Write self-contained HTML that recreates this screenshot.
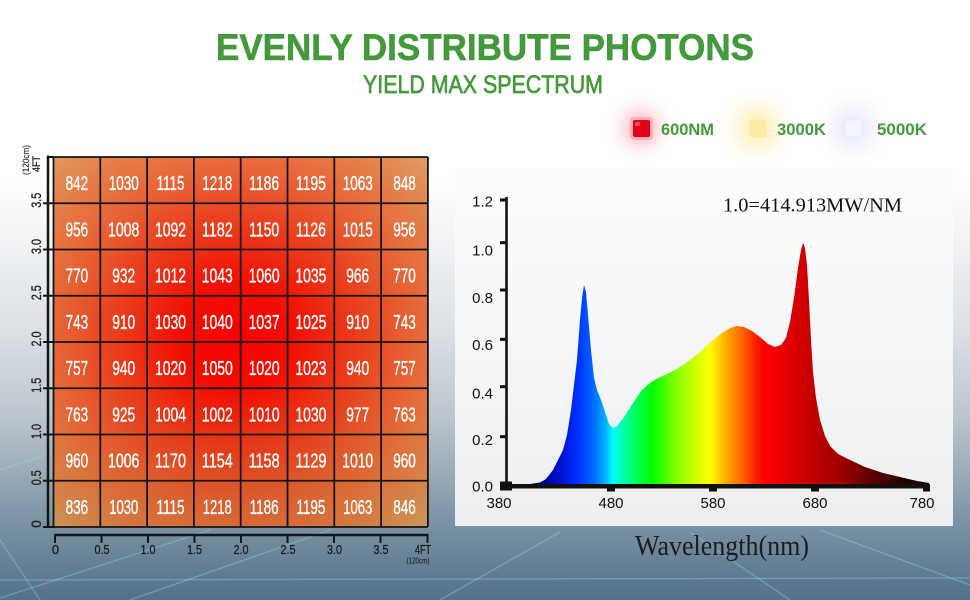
<!DOCTYPE html>
<html><head><meta charset="utf-8"><style>
html,body{margin:0;padding:0;width:970px;height:600px;overflow:hidden;background:#fff}
svg{display:block}
</style></head><body>
<svg width="970" height="600" viewBox="0 0 970 600" xmlns="http://www.w3.org/2000/svg">
<defs>
<linearGradient id="bg" x1="0" y1="0" x2="0" y2="600" gradientUnits="userSpaceOnUse">
<stop offset="0" stop-color="#ffffff"/>
<stop offset="0.3" stop-color="#ffffff"/>
<stop offset="0.42" stop-color="#eef0f2"/>
<stop offset="0.55" stop-color="#dce1e5"/>
<stop offset="0.7" stop-color="#bac4cc"/>
<stop offset="0.8" stop-color="#96a7b4"/>
<stop offset="0.88" stop-color="#7790a2"/>
<stop offset="1" stop-color="#54718a"/>
</linearGradient>
<linearGradient id="panel" x1="0" y1="168" x2="0" y2="526" gradientUnits="userSpaceOnUse">
<stop offset="0" stop-color="#fdfdfd"/>
<stop offset="1" stop-color="#eceef0"/>
</linearGradient>
<radialGradient id="heat" cx="236" cy="335" r="268" gradientUnits="userSpaceOnUse">
<stop offset="0" stop-color="#f80000"/>
<stop offset="0.2" stop-color="#f40c02"/>
<stop offset="0.4" stop-color="#ec3316"/>
<stop offset="0.6" stop-color="#e8592e"/>
<stop offset="0.75" stop-color="#e6723e"/>
<stop offset="0.9" stop-color="#e08b52"/>
<stop offset="1" stop-color="#d9a064"/>
</radialGradient>
<linearGradient id="heatov" x1="0" y1="157" x2="0" y2="527" gradientUnits="userSpaceOnUse">
<stop offset="0" stop-color="#ffc8a0" stop-opacity="0.08"/>
<stop offset="0.6" stop-color="#806020" stop-opacity="0"/>
<stop offset="1" stop-color="#806020" stop-opacity="0.16"/>
</linearGradient>
<linearGradient id="spec" x1="506" y1="0" x2="929" y2="0" gradientUnits="userSpaceOnUse">
<stop offset="0" stop-color="#000040"/>
<stop offset="0.080" stop-color="#00008a"/>
<stop offset="0.128" stop-color="#0010d0"/>
<stop offset="0.170" stop-color="#0030ff"/>
<stop offset="0.210" stop-color="#0070ff"/>
<stop offset="0.234" stop-color="#00b0ff"/>
<stop offset="0.253" stop-color="#00ffff"/>
<stop offset="0.281" stop-color="#00ffa0"/>
<stop offset="0.317" stop-color="#00ff40"/>
<stop offset="0.345" stop-color="#00ff00"/>
<stop offset="0.400" stop-color="#80ff00"/>
<stop offset="0.447" stop-color="#d0ff00"/>
<stop offset="0.482" stop-color="#ffff00"/>
<stop offset="0.518" stop-color="#ffb000"/>
<stop offset="0.553" stop-color="#ff7000"/>
<stop offset="0.589" stop-color="#ff2000"/>
<stop offset="0.612" stop-color="#ff0000"/>
<stop offset="0.671" stop-color="#e00000"/>
<stop offset="0.730" stop-color="#c00000"/>
<stop offset="0.790" stop-color="#a00000"/>
<stop offset="0.861" stop-color="#600000"/>
<stop offset="0.931" stop-color="#300000"/>
<stop offset="1" stop-color="#100000"/>
</linearGradient>
<radialGradient id="gRed"><stop offset="0" stop-color="#ff4050" stop-opacity="0.45"/><stop offset="0.5" stop-color="#ff7080" stop-opacity="0.18"/><stop offset="1" stop-color="#ffffff" stop-opacity="0"/></radialGradient>
<radialGradient id="gYel"><stop offset="0" stop-color="#ffd040" stop-opacity="0.5"/><stop offset="0.5" stop-color="#ffe080" stop-opacity="0.2"/><stop offset="1" stop-color="#ffffff" stop-opacity="0"/></radialGradient>
<radialGradient id="gPur"><stop offset="0" stop-color="#b8b0f0" stop-opacity="0.4"/><stop offset="0.5" stop-color="#d0ccf4" stop-opacity="0.18"/><stop offset="1" stop-color="#ffffff" stop-opacity="0"/></radialGradient>
</defs>

<rect x="0" y="0" width="970" height="600" fill="url(#bg)"/>

<g stroke="#8fe4f2" stroke-opacity="0.35" stroke-width="1.3" fill="none">
<line x1="0" y1="580" x2="970" y2="578"/>
<line x1="0" y1="598" x2="210" y2="530"/>
<line x1="130" y1="600" x2="330" y2="530"/>
<line x1="440" y1="600" x2="560" y2="532"/>
<line x1="690" y1="532" x2="790" y2="600"/>
<line x1="820" y1="530" x2="970" y2="585"/>
<line x1="0" y1="540" x2="40" y2="600"/>
<line x1="0" y1="470" x2="45" y2="455"/>
</g>

<text x="216" y="60" font-family="Liberation Sans, sans-serif" font-weight="bold" font-size="37" fill="#43993b" stroke="#43993b" stroke-width="0.6" textLength="538" lengthAdjust="spacingAndGlyphs">EVENLY DISTRIBUTE PHOTONS</text>
<text x="363" y="93" font-family="Liberation Sans, sans-serif" font-size="25" fill="#47993d" stroke="#47993d" stroke-width="0.7" textLength="240" lengthAdjust="spacingAndGlyphs">YIELD MAX SPECTRUM</text>

<circle cx="641" cy="128" r="38" fill="url(#gRed)"/>
<circle cx="757" cy="128" r="44" fill="url(#gYel)"/>
<circle cx="853" cy="128" r="42" fill="url(#gPur)"/>
<rect x="630" y="117" width="23" height="23" rx="4" fill="#f7a8b0" opacity="0.8"/>
<rect x="633" y="120" width="17" height="17" rx="2" fill="#e5001a"/>
<rect x="635" y="122" width="5" height="4" fill="#ff6070" opacity="0.7"/>
<rect x="749" y="120" width="17" height="17" rx="2" fill="#f7eba6"/>
<rect x="845" y="120" width="17" height="17" rx="2" fill="#f3f5fc" stroke="#e6eaf2" stroke-width="1"/>
<g font-family="Liberation Sans, sans-serif" font-weight="bold" font-size="17" fill="#43993b">
<text x="661" y="135" textLength="53" lengthAdjust="spacingAndGlyphs">600NM</text>
<text x="777" y="135" textLength="49" lengthAdjust="spacingAndGlyphs">3000K</text>
<text x="877" y="135" textLength="50" lengthAdjust="spacingAndGlyphs">5000K</text>
</g>

<rect x="53.5" y="157" width="374.4" height="370" fill="url(#heat)"/>
<rect x="53.5" y="157" width="374.4" height="370" fill="url(#heatov)"/>
<g stroke="#141414" stroke-width="1.8">
<line x1="53.5" y1="157" x2="427.9" y2="157"/>
<line x1="53.5" y1="203.25" x2="427.9" y2="203.25"/>
<line x1="53.5" y1="249.5" x2="427.9" y2="249.5"/>
<line x1="53.5" y1="295.75" x2="427.9" y2="295.75"/>
<line x1="53.5" y1="342" x2="427.9" y2="342"/>
<line x1="53.5" y1="388.25" x2="427.9" y2="388.25"/>
<line x1="53.5" y1="434.5" x2="427.9" y2="434.5"/>
<line x1="53.5" y1="480.75" x2="427.9" y2="480.75"/>
<line x1="53.5" y1="527" x2="427.9" y2="527"/>
<line x1="53.5" y1="157" x2="53.5" y2="527"/>
<line x1="100.3" y1="157" x2="100.3" y2="527"/>
<line x1="147.1" y1="157" x2="147.1" y2="527"/>
<line x1="193.9" y1="157" x2="193.9" y2="527"/>
<line x1="240.7" y1="157" x2="240.7" y2="527"/>
<line x1="287.5" y1="157" x2="287.5" y2="527"/>
<line x1="334.3" y1="157" x2="334.3" y2="527"/>
<line x1="381.1" y1="157" x2="381.1" y2="527"/>
<line x1="427.9" y1="157" x2="427.9" y2="527"/>
</g>
<g font-family="Liberation Sans, sans-serif" font-size="20" fill="#ffffff" stroke="#ffffff" stroke-width="0.35" text-anchor="middle">
<text x="76.9" y="190" textLength="22.5" lengthAdjust="spacingAndGlyphs">842</text><text x="123.7" y="190" textLength="30" lengthAdjust="spacingAndGlyphs">1030</text><text x="170.5" y="190" textLength="28" lengthAdjust="spacingAndGlyphs">1115</text><text x="217.3" y="190" textLength="30" lengthAdjust="spacingAndGlyphs">1218</text><text x="264.1" y="190" textLength="30" lengthAdjust="spacingAndGlyphs">1186</text><text x="310.9" y="190" textLength="30" lengthAdjust="spacingAndGlyphs">1195</text><text x="357.7" y="190" textLength="30" lengthAdjust="spacingAndGlyphs">1063</text><text x="404.5" y="190" textLength="22.5" lengthAdjust="spacingAndGlyphs">848</text>
<text x="76.9" y="236.25" textLength="22.5" lengthAdjust="spacingAndGlyphs">956</text><text x="123.7" y="236.25" textLength="31.5" lengthAdjust="spacingAndGlyphs">1008</text><text x="170.5" y="236.25" textLength="31" lengthAdjust="spacingAndGlyphs">1092</text><text x="217.3" y="236.25" textLength="31" lengthAdjust="spacingAndGlyphs">1182</text><text x="264.1" y="236.25" textLength="30" lengthAdjust="spacingAndGlyphs">1150</text><text x="310.9" y="236.25" textLength="30" lengthAdjust="spacingAndGlyphs">1126</text><text x="357.7" y="236.25" textLength="30" lengthAdjust="spacingAndGlyphs">1015</text><text x="404.5" y="236.25" textLength="22.5" lengthAdjust="spacingAndGlyphs">956</text>
<text x="76.9" y="282.5" textLength="22.5" lengthAdjust="spacingAndGlyphs">770</text><text x="123.7" y="282.5" textLength="23" lengthAdjust="spacingAndGlyphs">932</text><text x="170.5" y="282.5" textLength="31" lengthAdjust="spacingAndGlyphs">1012</text><text x="217.3" y="282.5" textLength="31" lengthAdjust="spacingAndGlyphs">1043</text><text x="264.1" y="282.5" textLength="31" lengthAdjust="spacingAndGlyphs">1060</text><text x="310.9" y="282.5" textLength="31" lengthAdjust="spacingAndGlyphs">1035</text><text x="357.7" y="282.5" textLength="23" lengthAdjust="spacingAndGlyphs">966</text><text x="404.5" y="282.5" textLength="22.5" lengthAdjust="spacingAndGlyphs">770</text>
<text x="76.9" y="328.75" textLength="22.5" lengthAdjust="spacingAndGlyphs">743</text><text x="123.7" y="328.75" textLength="23" lengthAdjust="spacingAndGlyphs">910</text><text x="170.5" y="328.75" textLength="31" lengthAdjust="spacingAndGlyphs">1030</text><text x="217.3" y="328.75" textLength="31" lengthAdjust="spacingAndGlyphs">1040</text><text x="264.1" y="328.75" textLength="31" lengthAdjust="spacingAndGlyphs">1037</text><text x="310.9" y="328.75" textLength="31" lengthAdjust="spacingAndGlyphs">1025</text><text x="357.7" y="328.75" textLength="23" lengthAdjust="spacingAndGlyphs">910</text><text x="404.5" y="328.75" textLength="22.5" lengthAdjust="spacingAndGlyphs">743</text>
<text x="76.9" y="375" textLength="22.5" lengthAdjust="spacingAndGlyphs">757</text><text x="123.7" y="375" textLength="23" lengthAdjust="spacingAndGlyphs">940</text><text x="170.5" y="375" textLength="31" lengthAdjust="spacingAndGlyphs">1020</text><text x="217.3" y="375" textLength="31" lengthAdjust="spacingAndGlyphs">1050</text><text x="264.1" y="375" textLength="31" lengthAdjust="spacingAndGlyphs">1020</text><text x="310.9" y="375" textLength="31" lengthAdjust="spacingAndGlyphs">1023</text><text x="357.7" y="375" textLength="23" lengthAdjust="spacingAndGlyphs">940</text><text x="404.5" y="375" textLength="22.5" lengthAdjust="spacingAndGlyphs">757</text>
<text x="76.9" y="421.25" textLength="22.5" lengthAdjust="spacingAndGlyphs">763</text><text x="123.7" y="421.25" textLength="23" lengthAdjust="spacingAndGlyphs">925</text><text x="170.5" y="421.25" textLength="31" lengthAdjust="spacingAndGlyphs">1004</text><text x="217.3" y="421.25" textLength="31" lengthAdjust="spacingAndGlyphs">1002</text><text x="264.1" y="421.25" textLength="31" lengthAdjust="spacingAndGlyphs">1010</text><text x="310.9" y="421.25" textLength="31" lengthAdjust="spacingAndGlyphs">1030</text><text x="357.7" y="421.25" textLength="23" lengthAdjust="spacingAndGlyphs">977</text><text x="404.5" y="421.25" textLength="22.5" lengthAdjust="spacingAndGlyphs">763</text>
<text x="76.9" y="467.5" textLength="22.5" lengthAdjust="spacingAndGlyphs">960</text><text x="123.7" y="467.5" textLength="31.5" lengthAdjust="spacingAndGlyphs">1006</text><text x="170.5" y="467.5" textLength="31" lengthAdjust="spacingAndGlyphs">1170</text><text x="217.3" y="467.5" textLength="31" lengthAdjust="spacingAndGlyphs">1154</text><text x="264.1" y="467.5" textLength="31" lengthAdjust="spacingAndGlyphs">1158</text><text x="310.9" y="467.5" textLength="31" lengthAdjust="spacingAndGlyphs">1129</text><text x="357.7" y="467.5" textLength="31" lengthAdjust="spacingAndGlyphs">1010</text><text x="404.5" y="467.5" textLength="22.5" lengthAdjust="spacingAndGlyphs">960</text>
<text x="76.9" y="513.75" textLength="22.5" lengthAdjust="spacingAndGlyphs">836</text><text x="123.7" y="513.75" textLength="29" lengthAdjust="spacingAndGlyphs">1030</text><text x="170.5" y="513.75" textLength="28" lengthAdjust="spacingAndGlyphs">1115</text><text x="217.3" y="513.75" textLength="29" lengthAdjust="spacingAndGlyphs">1218</text><text x="264.1" y="513.75" textLength="29" lengthAdjust="spacingAndGlyphs">1186</text><text x="310.9" y="513.75" textLength="29" lengthAdjust="spacingAndGlyphs">1195</text><text x="357.7" y="513.75" textLength="29" lengthAdjust="spacingAndGlyphs">1063</text><text x="404.5" y="513.75" textLength="22.5" lengthAdjust="spacingAndGlyphs">846</text>
</g>

<g stroke="#151515" fill="none">
<line x1="48" y1="155.5" x2="48" y2="528" stroke-width="2.5"/>
<line x1="47" y1="157" x2="53.5" y2="157" stroke-width="2"/>
<g stroke-width="2">
<line x1="43" y1="203.25" x2="53.5" y2="203.25"/>
<line x1="43" y1="249.5" x2="53.5" y2="249.5"/>
<line x1="43" y1="295.75" x2="53.5" y2="295.75"/>
<line x1="43" y1="342" x2="53.5" y2="342"/>
<line x1="43" y1="388.25" x2="53.5" y2="388.25"/>
<line x1="43" y1="434.5" x2="53.5" y2="434.5"/>
<line x1="43" y1="480.75" x2="53.5" y2="480.75"/>
<line x1="43" y1="527" x2="53.5" y2="527"/>
</g>
<line x1="54" y1="535" x2="428.5" y2="535" stroke-width="2.5"/>
<g stroke-width="2">
<line x1="55" y1="535" x2="55" y2="543"/>
<line x1="101.5" y1="535" x2="101.5" y2="543"/>
<line x1="148" y1="535" x2="148" y2="543"/>
<line x1="194.5" y1="535" x2="194.5" y2="543"/>
<line x1="241" y1="535" x2="241" y2="543"/>
<line x1="287.5" y1="535" x2="287.5" y2="543"/>
<line x1="334" y1="535" x2="334" y2="543"/>
<line x1="380.5" y1="535" x2="380.5" y2="543"/>
<line x1="427.5" y1="535" x2="427.5" y2="543"/>
</g>
</g>
<g font-family="Liberation Sans, sans-serif" font-size="13" fill="#1e1e1e" stroke="#1e1e1e" stroke-width="0.3" text-anchor="middle">
<text x="55.5" y="554">0</text>
<text x="102" y="554" textLength="15" lengthAdjust="spacingAndGlyphs">0.5</text>
<text x="148" y="554" textLength="15" lengthAdjust="spacingAndGlyphs">1.0</text>
<text x="194.5" y="554" textLength="15" lengthAdjust="spacingAndGlyphs">1.5</text>
<text x="241" y="554" textLength="15" lengthAdjust="spacingAndGlyphs">2.0</text>
<text x="288" y="554" textLength="15" lengthAdjust="spacingAndGlyphs">2.5</text>
<text x="334.5" y="554" textLength="15" lengthAdjust="spacingAndGlyphs">3.0</text>
<text x="381" y="554" textLength="15" lengthAdjust="spacingAndGlyphs">3.5</text>
<text x="423" y="554" textLength="16" lengthAdjust="spacingAndGlyphs">4FT</text>
<text x="418" y="563.5" font-size="8.5" stroke-width="0.1" textLength="23" lengthAdjust="spacingAndGlyphs">(120cm)</text>
</g>
<g font-family="Liberation Sans, sans-serif" font-size="13.5" fill="#1e1e1e" stroke="#1e1e1e" stroke-width="0.3" text-anchor="middle">
<text transform="translate(41,524) rotate(-90)">0</text>
<text transform="translate(41,477.75) rotate(-90)" textLength="15" lengthAdjust="spacingAndGlyphs">0.5</text>
<text transform="translate(41,431.5) rotate(-90)" textLength="15" lengthAdjust="spacingAndGlyphs">1.0</text>
<text transform="translate(41,385.25) rotate(-90)" textLength="15" lengthAdjust="spacingAndGlyphs">1.5</text>
<text transform="translate(41,339) rotate(-90)" textLength="15" lengthAdjust="spacingAndGlyphs">2.0</text>
<text transform="translate(41,292.75) rotate(-90)" textLength="15" lengthAdjust="spacingAndGlyphs">2.5</text>
<text transform="translate(41,246.5) rotate(-90)" textLength="15" lengthAdjust="spacingAndGlyphs">3.0</text>
<text transform="translate(41,200.25) rotate(-90)" textLength="15" lengthAdjust="spacingAndGlyphs">3.5</text>
<text transform="translate(40,164) rotate(-90)" font-size="11" textLength="16" lengthAdjust="spacingAndGlyphs">4FT</text>
<text transform="translate(29,160) rotate(-90)" font-size="9" stroke-width="0.1" textLength="30" lengthAdjust="spacingAndGlyphs">(120cm)</text>
</g>

<rect x="455" y="168" width="498" height="358" fill="url(#panel)"/>
<polygon fill="url(#spec)" points="506,486 506,484 530,484 540,482.5 546,479 553,470 558,460 563,450 567,435 571,410 574,385 577,360 580,320 582,298 584,285 586,292 588,315 591,350 594,378 597,390 601,400 605,412 609,424 613,428 617,426 622,420 628,411 635,400 642,390 650,383 658,378 667,374 677,369 690,360 700,352 713,340 722,333 730,328 737,326 744,327 752,331 760,337 768,344 775,347 781,345 786,338 790,322 794,298 798,268 801,250 803,243 805,248 807,265 809,300 811,340 813,372 816,398 820,420 825,436 830,446 838,454 850,460 865,467 883,473 900,477 917,481 929,483 929,486"/>
<g fill="#111">
<rect x="505.2" y="197" width="2.6" height="292"/>
<rect x="500" y="198.5" width="6" height="3"/>
<rect x="500" y="241.2" width="6" height="3"/>
<rect x="500" y="288.5" width="6" height="3"/>
<rect x="500" y="337.8" width="6" height="3"/>
<rect x="500" y="385.2" width="6" height="3"/>
<rect x="500" y="435.2" width="6" height="3"/>
<rect x="500" y="484" width="430" height="4.5"/>
<rect x="500" y="481.5" width="12" height="9"/>
<rect x="923" y="484" width="7" height="7.5"/>
<rect x="607" y="487" width="8" height="4.5"/>
<rect x="709" y="487" width="8" height="4.5"/>
<rect x="811" y="487" width="8" height="4.5"/>
</g>
<g font-family="Liberation Sans, sans-serif" font-size="15" fill="#111" text-anchor="end">
<text x="493" y="206.5">1.2</text>
<text x="493" y="255.5">1.0</text>
<text x="493" y="303">0.8</text>
<text x="493" y="350">0.6</text>
<text x="493" y="398.5">0.4</text>
<text x="493" y="445">0.2</text>
<text x="493" y="491.5">0.0</text>
</g>
<g font-family="Liberation Sans, sans-serif" font-size="15" fill="#111" text-anchor="middle">
<text x="499" y="508">380</text>
<text x="611" y="508">480</text>
<text x="713" y="508">580</text>
<text x="815" y="508">680</text>
<text x="922" y="508">780</text>
</g>
<text x="723" y="211.5" font-family="Liberation Serif, serif" font-size="20" fill="#111" textLength="179" lengthAdjust="spacingAndGlyphs">1.0=414.913MW/NM</text>
<text x="635" y="555" font-family="Liberation Serif, serif" font-size="28" fill="#1c1c1c" textLength="174" lengthAdjust="spacingAndGlyphs">Wavelength(nm)</text>
</svg>
</body></html>
